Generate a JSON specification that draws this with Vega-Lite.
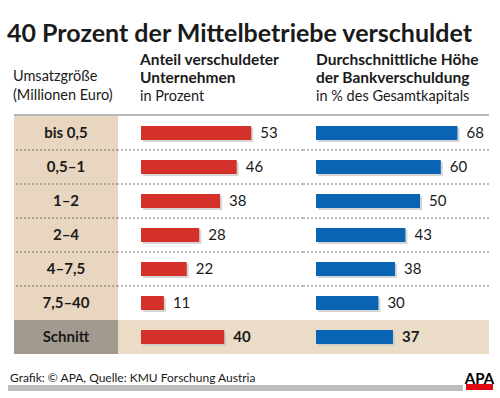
{
  "$schema": "https://vega.github.io/schema/vega-lite/v6.json",
  "background": "white",
  "padding": {"left": 7, "top": 21, "right": 0, "bottom": 0},
  "config": {
    "view": {"stroke": null},
    "font": "Lato",
    "text": {"font": "Lato"},
    "title": {"font": "Lato", "color": "#1a1a1a"}
  },
  "title": {
    "text": "40 Prozent der Mittelbetriebe verschuldet",
    "fontSize": 25,
    "fontWeight": "bold",
    "anchor": "start",
    "dx": -1,
    "offset": 6
  },
  "datasets": {
    "rows": [
      {"nr": 1, "cat": "bis 0,5", "typ": "Klasse", "anteil": 53, "hoehe": 68},
      {"nr": 2, "cat": "0,5–1", "typ": "Klasse", "anteil": 46, "hoehe": 60},
      {"nr": 3, "cat": "1–2", "typ": "Klasse", "anteil": 38, "hoehe": 50},
      {"nr": 4, "cat": "2–4", "typ": "Klasse", "anteil": 28, "hoehe": 43},
      {"nr": 5, "cat": "4–7,5", "typ": "Klasse", "anteil": 22, "hoehe": 38},
      {"nr": 6, "cat": "7,5–40", "typ": "Klasse", "anteil": 11, "hoehe": 30},
      {"nr": 7, "cat": "Schnitt", "typ": "Schnitt", "anteil": 40, "hoehe": 37}
    ],
    "footer": [
      {"quelle": "Grafik: © APA, Quelle: KMU Forschung Austria", "logo": "APA"}
    ]
  },
  "vconcat": [
    {
      "spacing": 0,
      "bounds": "flush",
      "hconcat": [
        {
          "width": 104,
          "height": 238,
          "data": {"name": "rows"},
          "title": {
            "text": ["Umsatzgröße", "(Millionen Euro)"],
            "fontSize": 14.5,
            "fontWeight": "normal",
            "lineHeight": 18.5,
            "anchor": "start",
            "offset": 11
          },
          "encoding": {
            "y": {"field": "cat", "type": "nominal", "axis": null,
                  "sort": ["bis 0,5", "0,5–1", "1–2", "2–4", "4–7,5", "7,5–40", "Schnitt"],
                  "scale": {"paddingInner": 0, "paddingOuter": 0}}
          },
          "layer": [
            {
              "transform": [{"filter": "datum.typ === 'Klasse'"}],
              "mark": {"type": "rect", "color": "#e8d6c0"},
              "encoding": {"x": {"value": 0}, "x2": {"value": "width"}}
            },
            {
              "transform": [{"filter": "datum.typ === 'Schnitt'"}],
              "mark": {"type": "rect", "color": "#a39a8f"},
              "encoding": {"x": {"value": 0}, "x2": {"value": "width"}}
            },
            {
              "transform": [{"filter": "datum.nr >= 2 && datum.nr <= 6"}],
              "mark": {"type": "rule", "color": "#777", "strokeDash": [2, 2], "strokeWidth": 1},
              "encoding": {"y": {"field": "cat", "type": "nominal", "sort": ["bis 0,5", "0,5–1", "1–2", "2–4", "4–7,5", "7,5–40", "Schnitt"], "bandPosition": 0}}
            },
            {
              "transform": [{"filter": "datum.nr === 1"}],
              "mark": {"type": "rule", "color": "#b8b8b8", "strokeWidth": 2, "yOffset": -1},
              "encoding": {"y": {"field": "cat", "type": "nominal", "sort": ["bis 0,5", "0,5–1", "1–2", "2–4", "4–7,5", "7,5–40", "Schnitt"], "bandPosition": 0}}
            },
            {
              "mark": {"type": "text", "fontSize": 15, "fontWeight": "bold", "color": "#1a1a1a",
                       "align": "center", "baseline": "middle"},
              "encoding": {
                "text": {"field": "cat"},
                "x": {"datum": 0.5, "type": "quantitative", "axis": null, "scale": {"domain": [0, 1], "nice": false}}
              }
            }
          ]
        },
        {
          "width": 185,
          "height": 238,
          "data": {"name": "rows"},
          "title": {
            "text": ["Anteil verschuldeter", "Unternehmen"],
            "subtitle": "in Prozent",
            "fontSize": 15.5,
            "fontWeight": "bold",
            "lineHeight": 18.5,
            "subtitleFontSize": 14.5,
            "subtitleFont": "Lato",
            "subtitleColor": "#1a1a1a",
            "subtitlePadding": 3,
            "anchor": "start",
            "dx": 23,
            "offset": 11
          },
          "encoding": {
            "y": {"field": "cat", "type": "nominal", "axis": null,
                  "sort": ["bis 0,5", "0,5–1", "1–2", "2–4", "4–7,5", "7,5–40", "Schnitt"],
                  "scale": {"paddingInner": 0, "paddingOuter": 0}}
          },
          "layer": [
            {
              "transform": [{"filter": "datum.typ === 'Schnitt'"}],
              "mark": {"type": "rect", "color": "#ebdcc8"},
              "encoding": {"x": {"value": 0}, "x2": {"value": "width"}}
            },
            {
              "transform": [{"filter": "datum.nr >= 2 && datum.nr <= 6"}],
              "mark": {"type": "rule", "color": "#777", "strokeDash": [2, 2], "strokeWidth": 1},
              "encoding": {"y": {"field": "cat", "type": "nominal", "sort": ["bis 0,5", "0,5–1", "1–2", "2–4", "4–7,5", "7,5–40", "Schnitt"], "bandPosition": 0}}
            },
            {
              "transform": [{"filter": "datum.nr === 1"}],
              "mark": {"type": "rule", "color": "#b8b8b8", "strokeWidth": 2, "yOffset": -1},
              "encoding": {"y": {"field": "cat", "type": "nominal", "sort": ["bis 0,5", "0,5–1", "1–2", "2–4", "4–7,5", "7,5–40", "Schnitt"], "bandPosition": 0}}
            },
            {
              "encoding": {
                "x": {"field": "anteil", "type": "quantitative", "axis": null,
                      "scale": {"domain": [-11.06, 77.88], "nice": false, "zero": false}}
              },
              "layer": [
                {"mark": {"type": "bar", "size": 14, "color": "#c4c4c4", "opacity": 0.7, "xOffset": 2, "yOffset": 2}},
                {"mark": {"type": "bar", "size": 14, "color": "#d3312a"}},
                {
                  "transform": [{"filter": "datum.typ === 'Klasse'"}],
                  "mark": {"type": "text", "fontSize": 15, "color": "#1a1a1a", "align": "left", "baseline": "middle", "dx": 9},
                  "encoding": {"text": {"field": "anteil"}}
                },
                {
                  "transform": [{"filter": "datum.typ === 'Schnitt'"}],
                  "mark": {"type": "text", "fontSize": 15, "fontWeight": "bold", "color": "#1a1a1a", "align": "left", "baseline": "middle", "dx": 9},
                  "encoding": {"text": {"field": "anteil"}}
                }
              ]
            }
          ]
        },
        {
          "width": 186,
          "height": 238,
          "data": {"name": "rows"},
          "title": {
            "text": ["Durchschnittliche Höhe", "der Bankverschuldung"],
            "subtitle": "in % des Gesamtkapitals",
            "fontSize": 15.5,
            "fontWeight": "bold",
            "lineHeight": 18.5,
            "subtitleFontSize": 14.5,
            "subtitleFont": "Lato",
            "subtitleColor": "#1a1a1a",
            "subtitlePadding": 3,
            "anchor": "start",
            "dx": 14,
            "offset": 11
          },
          "encoding": {
            "y": {"field": "cat", "type": "nominal", "axis": null,
                  "sort": ["bis 0,5", "0,5–1", "1–2", "2–4", "4–7,5", "7,5–40", "Schnitt"],
                  "scale": {"paddingInner": 0, "paddingOuter": 0}}
          },
          "layer": [
            {
              "transform": [{"filter": "datum.typ === 'Schnitt'"}],
              "mark": {"type": "rect", "color": "#ebdcc8"},
              "encoding": {"x": {"value": 0}, "x2": {"value": "width"}}
            },
            {
              "transform": [{"filter": "datum.nr >= 2 && datum.nr <= 6"}],
              "mark": {"type": "rule", "color": "#777", "strokeDash": [2, 2], "strokeWidth": 1},
              "encoding": {"y": {"field": "cat", "type": "nominal", "sort": ["bis 0,5", "0,5–1", "1–2", "2–4", "4–7,5", "7,5–40", "Schnitt"], "bandPosition": 0}}
            },
            {
              "transform": [{"filter": "datum.nr === 1"}],
              "mark": {"type": "rule", "color": "#b8b8b8", "strokeWidth": 2, "yOffset": -1},
              "encoding": {"y": {"field": "cat", "type": "nominal", "sort": ["bis 0,5", "0,5–1", "1–2", "2–4", "4–7,5", "7,5–40", "Schnitt"], "bandPosition": 0}}
            },
            {
              "encoding": {
                "x": {"field": "hoehe", "type": "quantitative", "axis": null,
                      "scale": {"domain": [-6.25, 83.17], "nice": false, "zero": false}}
              },
              "layer": [
                {"mark": {"type": "bar", "size": 14, "color": "#c4c4c4", "opacity": 0.7, "xOffset": 2, "yOffset": 2}},
                {"mark": {"type": "bar", "size": 14, "color": "#0a64b4"}},
                {
                  "transform": [{"filter": "datum.typ === 'Klasse'"}],
                  "mark": {"type": "text", "fontSize": 15, "color": "#1a1a1a", "align": "left", "baseline": "middle", "dx": 9},
                  "encoding": {"text": {"field": "hoehe"}}
                },
                {
                  "transform": [{"filter": "datum.typ === 'Schnitt'"}],
                  "mark": {"type": "text", "fontSize": 15, "fontWeight": "bold", "color": "#1a1a1a", "align": "left", "baseline": "middle", "dx": 9},
                  "encoding": {"text": {"field": "hoehe"}}
                }
              ]
            }
          ]
        }
      ]
    },
    {
      "width": 475,
      "height": 36,
      "data": {"name": "footer"},
      "layer": [
        {
          "mark": {"type": "rect", "color": "#bdbdbd"},
          "encoding": {"x": {"value": -6}, "x2": {"value": 449}, "y": {"value": 25}, "y2": {"value": 31}}
        },
        {
          "mark": {"type": "rect", "color": "#e30613"},
          "encoding": {"x": {"value": 452}, "x2": {"value": 479}, "y": {"value": 24}, "y2": {"value": 30}}
        },
        {
          "mark": {"type": "text", "fontSize": 12, "color": "#1a1a1a", "align": "left", "baseline": "alphabetic"},
          "encoding": {"text": {"field": "quelle"}, "x": {"value": -4}, "y": {"value": 22}}
        },
        {
          "mark": {"type": "text", "fontSize": 15, "fontWeight": "bold", "color": "#000", "align": "center", "baseline": "alphabetic"},
          "encoding": {"text": {"field": "logo"}, "x": {"value": 465.5}, "y": {"value": 24}}
        }
      ]
    }
  ],
  "spacing": 6
}
